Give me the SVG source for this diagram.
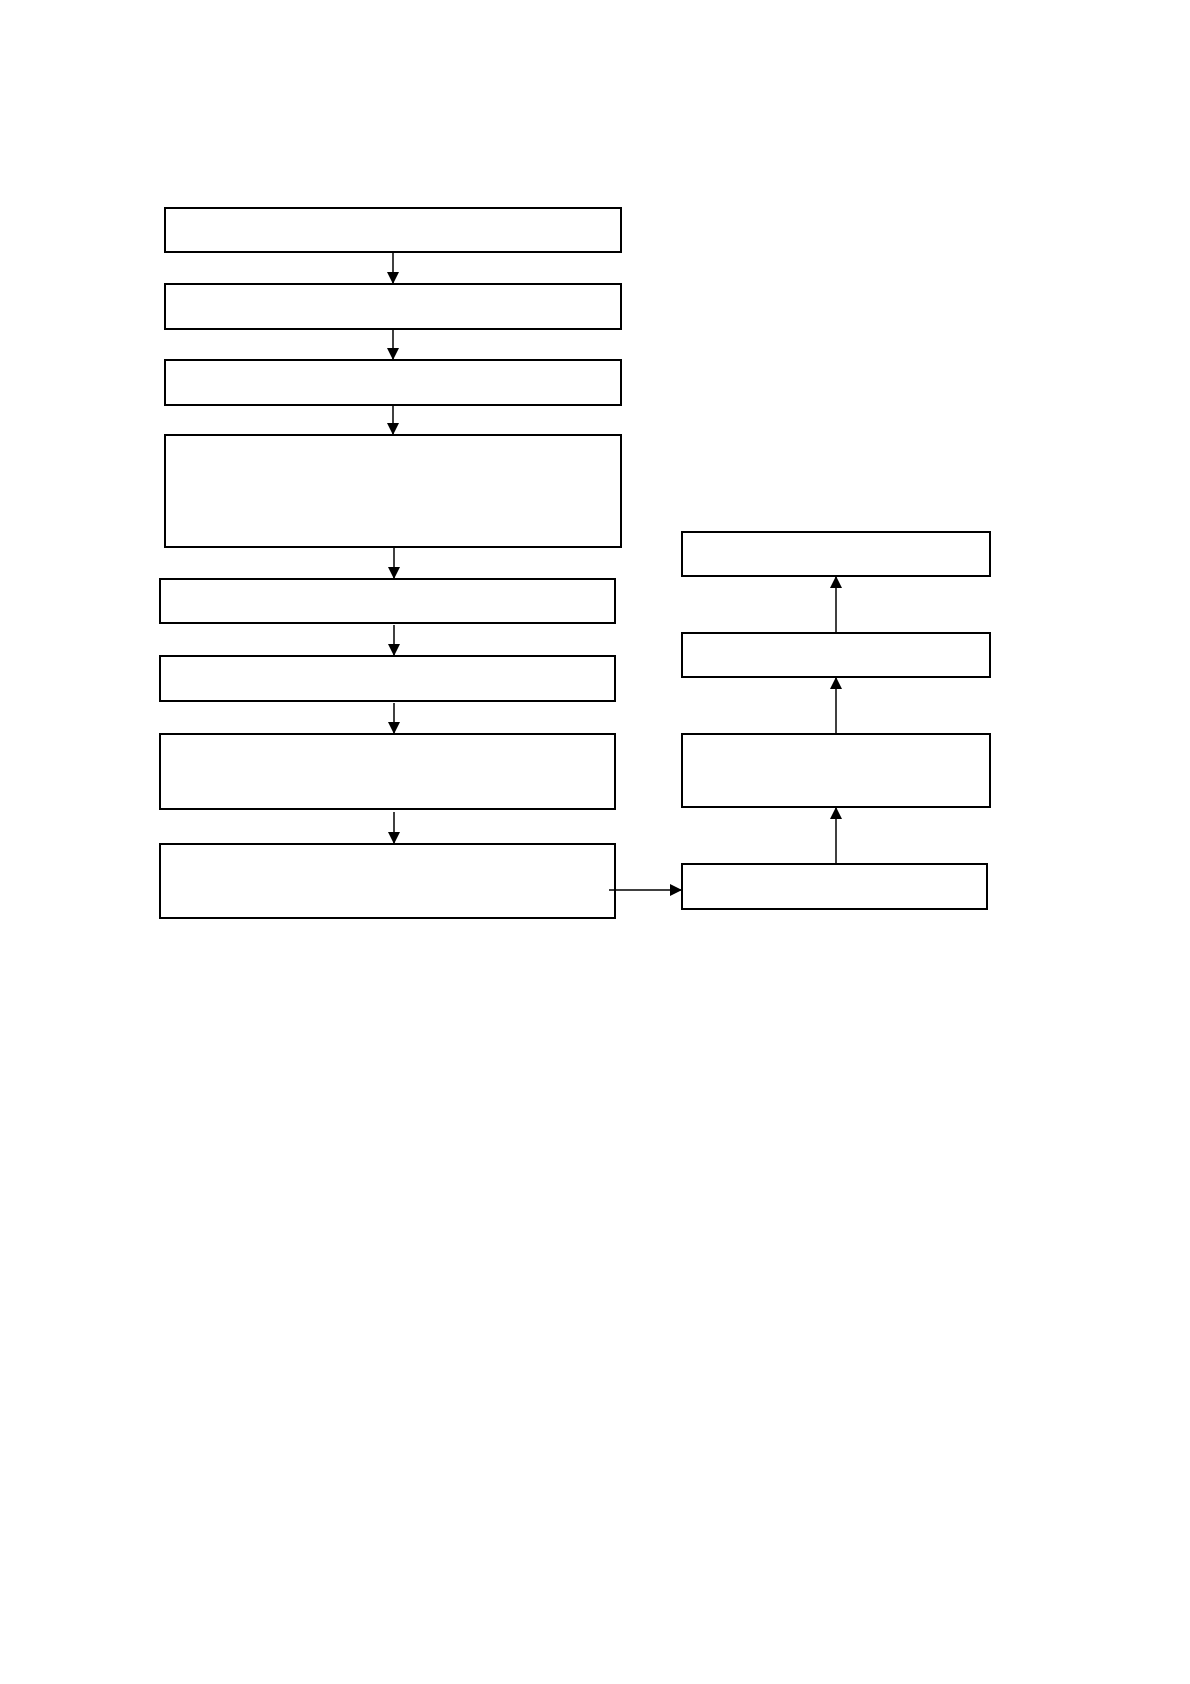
<svg xmlns="http://www.w3.org/2000/svg" width="1190" height="1684" viewBox="0 0 1190 1684">
<style>
.box{fill:#fff;stroke:#000;stroke-width:2}
.con{fill:none;stroke:#000;stroke-width:1.5}
</style>
<defs>
<marker id="ah" viewBox="0 0 12 12" refX="12" refY="6" markerWidth="12" markerHeight="12" markerUnits="userSpaceOnUse" orient="auto">
<path d="M0,0 L12,6 L0,12 Z" fill="#000"/>
</marker>
</defs>
<rect width="1190" height="1684" fill="#fff"/>
<g id="n1"><rect class="box" x="165" y="208" width="456" height="44"/></g>
<g id="n2"><rect class="box" x="165" y="284" width="456" height="45"/></g>
<g id="n3"><rect class="box" x="165" y="360" width="456" height="45"/></g>
<g id="n4"><rect class="box" x="165" y="435" width="456" height="112"/></g>
<g id="n5"><rect class="box" x="160" y="579" width="455" height="44"/></g>
<g id="n6"><rect class="box" x="160" y="656" width="455" height="45"/></g>
<g id="n7"><rect class="box" x="160" y="734" width="455" height="75"/></g>
<g id="n8"><rect class="box" x="160" y="844" width="455" height="74"/></g>
<g id="r1"><rect class="box" x="682" y="532" width="308" height="44"/></g>
<g id="r2"><rect class="box" x="682" y="633" width="308" height="44"/></g>
<g id="r3"><rect class="box" x="682" y="734" width="308" height="73"/></g>
<g id="r4"><rect class="box" x="682" y="864" width="305" height="45"/></g>
<g id="connectors">
<line class="con" x1="393" y1="252" x2="393" y2="284" marker-end="url(#ah)"/>
<line class="con" x1="393" y1="329" x2="393" y2="360" marker-end="url(#ah)"/>
<line class="con" x1="393" y1="405" x2="393" y2="435" marker-end="url(#ah)"/>
<line class="con" x1="394" y1="547" x2="394" y2="579" marker-end="url(#ah)"/>
<line class="con" x1="394" y1="625" x2="394" y2="656" marker-end="url(#ah)"/>
<line class="con" x1="394" y1="703" x2="394" y2="734" marker-end="url(#ah)"/>
<line class="con" x1="394" y1="812" x2="394" y2="844" marker-end="url(#ah)"/>
<line class="con" x1="609" y1="890" x2="682" y2="890" marker-end="url(#ah)"/>
<line class="con" x1="836" y1="864" x2="836" y2="807" marker-end="url(#ah)"/>
<line class="con" x1="836" y1="734" x2="836" y2="677" marker-end="url(#ah)"/>
<line class="con" x1="836" y1="633" x2="836" y2="576" marker-end="url(#ah)"/>
</g>
</svg>
